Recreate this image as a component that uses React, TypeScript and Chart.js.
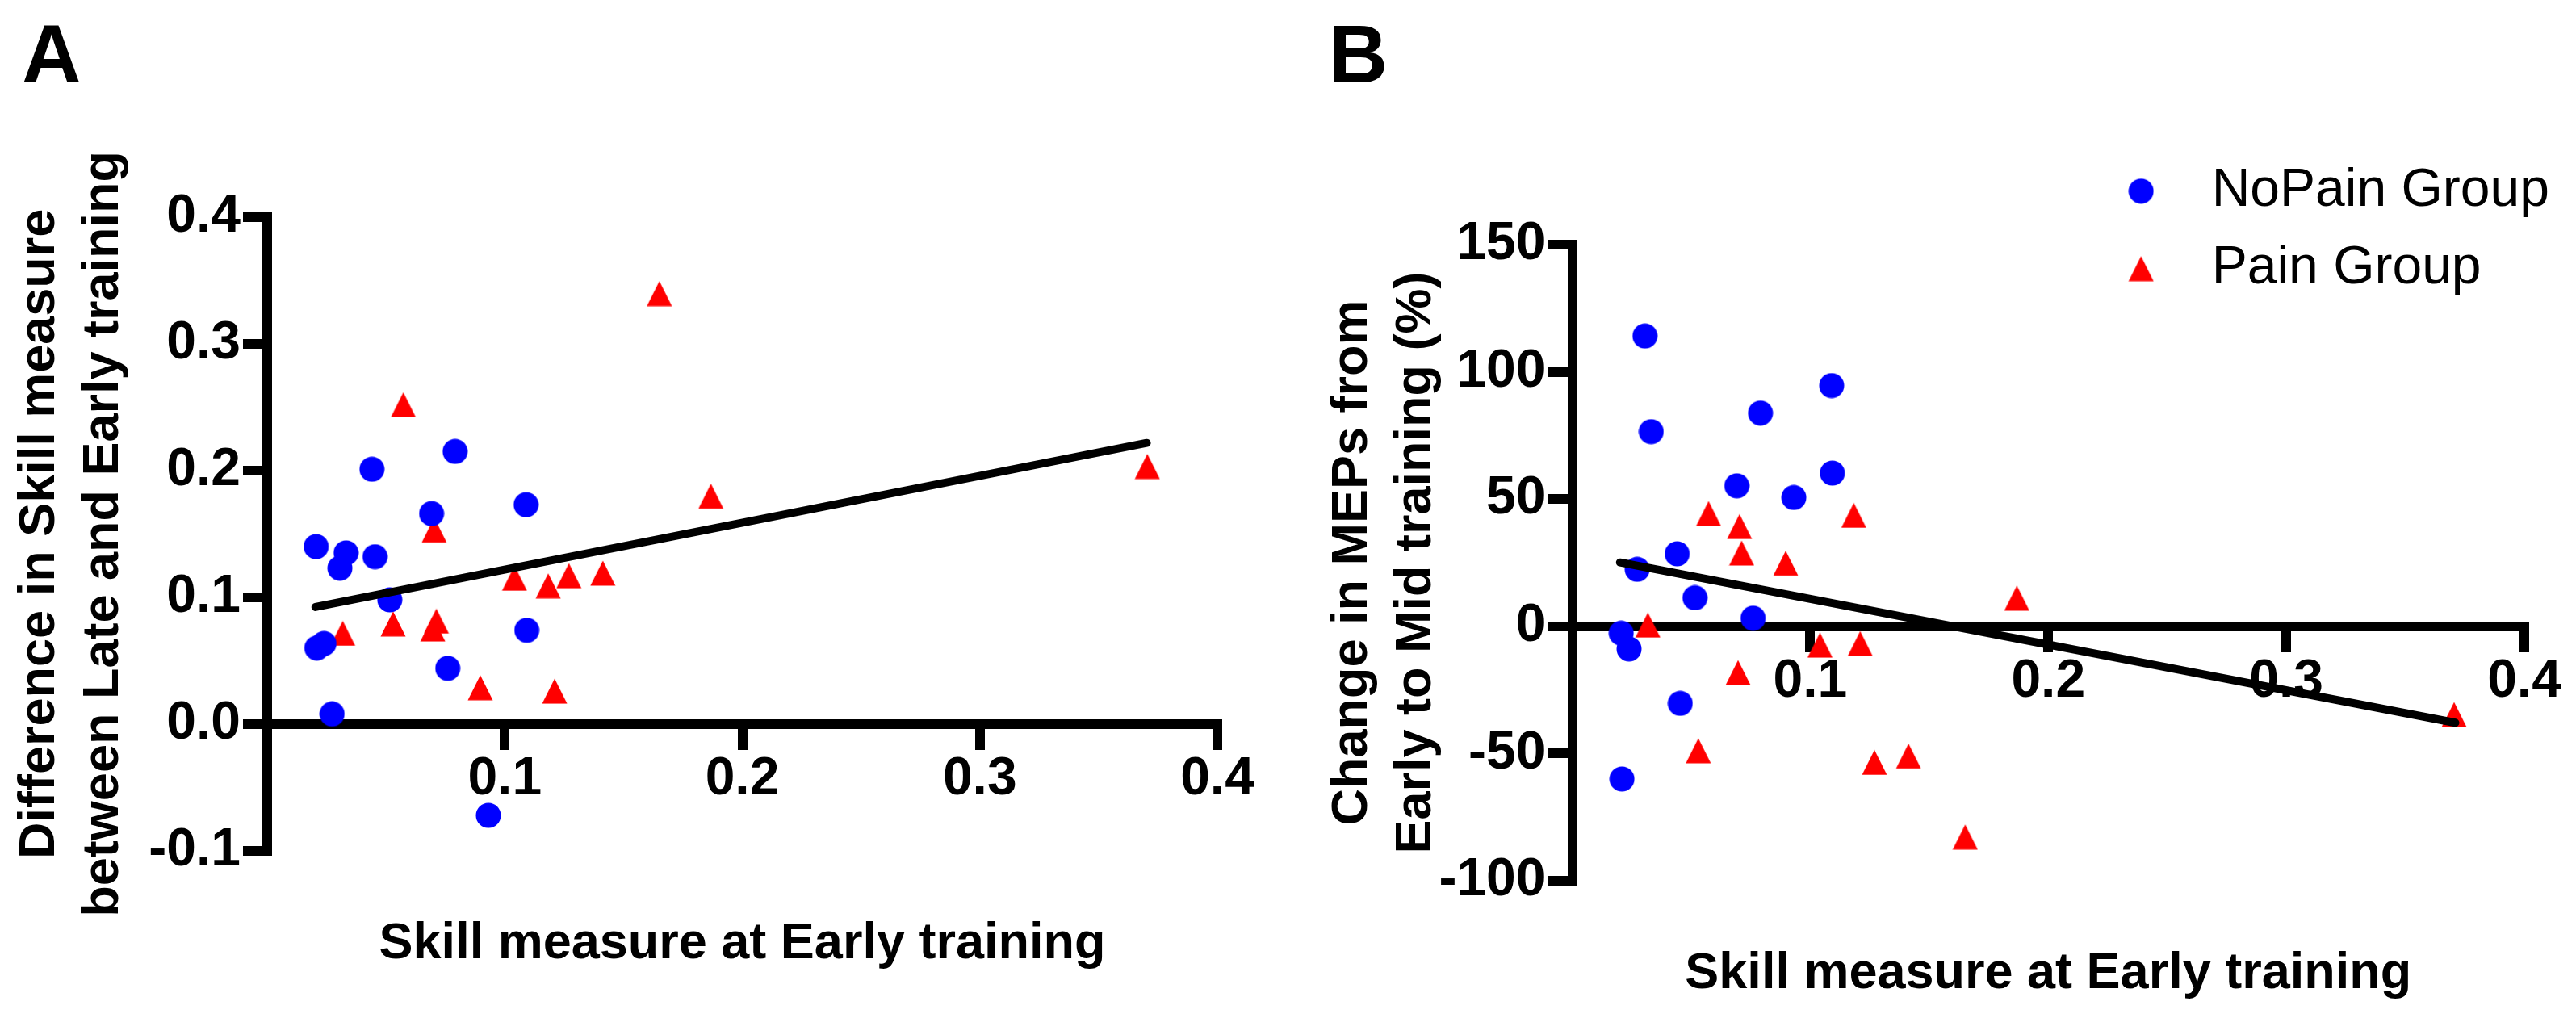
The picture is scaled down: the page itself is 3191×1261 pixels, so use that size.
import React, { useEffect, useRef } from 'react';
import { Chart, registerables } from 'chart.js';

Chart.register(...registerables);

// ---------- data ----------
// NoPain group (blue circles)
const noPainSkill = [0.0206, 0.0209, 0.0239, 0.0273, 0.0306, 0.0332, 0.0441, 0.0454, 0.0516, 0.0692, 0.0760, 0.0791, 0.0931, 0.1090, 0.1093];
const noPainSkillGain = [0.140, 0.060, 0.0635, 0.008, 0.123, 0.135, 0.201, 0.132, 0.098, 0.166, 0.044, 0.215, -0.072, 0.173, 0.074];
const noPainMepChange = [-2.7, -60, -8.9, 22.4, 114.1, 76.5, 28.5, -30.3, 11.2, 55.2, 3.2, 83.8, 50.6, 94.6, 60.2];

// Pain group (red triangles)
const painSkill = [0.0318, 0.0530, 0.0573, 0.0697, 0.0703, 0.0712, 0.0897, 0.1041, 0.1183, 0.1210, 0.1270, 0.1413, 0.1651, 0.1868, 0.3705];
const painSkillGain = [0.0716, 0.079, 0.2518, 0.075, 0.153, 0.0812, 0.0287, 0.115, 0.109, 0.026, 0.117, 0.119, 0.3395, 0.1797, 0.2032];
const painMepChange = [0.5, -48.9, 44.3, -18.2, 39.2, 28.8, 24.8, -7.4, 43.6, -6.8, -53.5, -51.0, -82.8, 11.1, -34.7];

// regression line end points
const fitLineA = [{ x: 0.0203, y: 0.0923 }, { x: 0.3703, y: 0.2217 }];
const fitLineB = [{ x: 0.0201, y: 25.1 }, { x: 0.3710, y: -37.9 }];

// ticks
const skillTicks = [0, 0.1, 0.2, 0.3, 0.4];
const gainTicks = [-0.1, 0, 0.1, 0.2, 0.3, 0.4];
const mepTicks = [-100, -50, 0, 50, 100, 150];

const groupLabels = ['NoPain Group', 'Pain Group'];
const xTitle = 'Skill measure at Early training';
const yTitleA = ['Difference in Skill measure', 'between Late and Early training'];
const yTitleB = ['Change in MEPs from', 'Early to Mid training (%)'];

// ---------- styling ----------
const FONT = '"Liberation Sans", Arial, Helvetica, sans-serif';
const BLUE = '#0000FF';
const RED = '#FF0000';
const AXIS_W = 12;

function marker(kind: 'circle' | 'triangle', color: string): HTMLCanvasElement {
  const c = document.createElement('canvas');
  c.width = 32;
  c.height = 32;
  const g = c.getContext('2d')!;
  g.fillStyle = color;
  g.beginPath();
  if (kind === 'circle') {
    g.arc(16, 16, 15.5, 0, Math.PI * 2);
  } else {
    g.moveTo(16, 0.5);
    g.lineTo(31.5, 31.5);
    g.lineTo(0.5, 31.5);
    g.closePath();
  }
  g.fill();
  return c;
}

function pts(xs: number[], ys: number[]) {
  return xs.map((x, i) => ({ x, y: ys[i] }));
}

const axisGrid = (tickLength: number) => ({
  drawOnChartArea: false,
  drawTicks: true,
  tickLength,
  tickWidth: AXIS_W,
  tickColor: '#000',
  lineWidth: AXIS_W,
  color: '#000',
});

function buildConfig(opts: {
  yVals: [number[], number[]];
  fit: { x: number; y: number }[];
  yTicks: number[];
  yFmt: (v: number) => string;
  yWidth: number;
  xHeight: number;
  padding: { top: number; right: number; bottom: number; left: number };
  yTitle: string[];
  yTitlePad: number;
  legend: boolean;
  circ: HTMLCanvasElement;
  tri: HTMLCanvasElement;
}): any {
  const yMin = opts.yTicks[0];
  const yMax = opts.yTicks[opts.yTicks.length - 1];
  return {
    type: 'scatter',
    data: {
      datasets: [
        {
          label: groupLabels[0],
          data: pts(noPainSkill, opts.yVals[0]),
          pointStyle: opts.circ,
          pointRadius: 16,
          backgroundColor: BLUE,
          borderColor: BLUE,
          borderWidth: 0,
          showLine: false,
          order: 1,
          clip: false,
        },
        {
          label: groupLabels[1],
          data: pts(painSkill, opts.yVals[1]),
          pointStyle: opts.tri,
          pointRadius: 16,
          backgroundColor: RED,
          borderColor: RED,
          borderWidth: 0,
          showLine: false,
          order: 2,
          clip: false,
        },
        {
          label: 'fit',
          data: opts.fit,
          showLine: true,
          borderColor: '#000',
          borderWidth: 10,
          borderCapStyle: 'round',
          pointRadius: 0,
          fill: false,
          order: 0,
          clip: false,
        },
      ],
    },
    options: {
      animation: false,
      responsive: false,
      devicePixelRatio: 1,
      events: [],
      layout: { padding: opts.padding, autoPadding: false },
      plugins: {
        tooltip: { enabled: false },
        title: { display: false },
        legend: opts.legend
          ? {
              display: true,
              position: 'chartArea',
              align: 'start',
              labels: {
                usePointStyle: true,
                pointStyleWidth: 109,
                boxHeight: 22,
                padding: 30,
                color: '#000',
                font: { family: FONT, size: 66, weight: 'normal' },
                filter: (item: any) => item.datasetIndex !== 2,
              },
            }
          : { display: false },
      },
      scales: {
        x: {
          type: 'linear',
          position: { y: 0 },
          min: skillTicks[0],
          max: skillTicks[skillTicks.length - 1],
          afterBuildTicks: (s: any) => {
            s.ticks = skillTicks.map((v) => ({ value: v }));
          },
          afterFit: (s: any) => {
            s.height = opts.xHeight;
          },
          grid: axisGrid(26),
          border: { display: true, width: AXIS_W, color: '#000' },
          ticks: {
            padding: 3,
            color: '#000',
            maxRotation: 0,
            autoSkip: false,
            font: { family: FONT, size: 66, weight: 'bold' },
            callback: (v: number) => (v === 0 ? '' : v.toFixed(1)),
          },
          title: {
            display: true,
            text: xTitle,
            color: '#000',
            padding: 0,
            font: { family: FONT, size: 63, weight: 'bold', lineHeight: 1.2 },
          },
        },
        y: {
          type: 'linear',
          position: 'left',
          min: yMin,
          max: yMax,
          afterBuildTicks: (s: any) => {
            s.ticks = opts.yTicks.map((v) => ({ value: v }));
          },
          afterFit: (s: any) => {
            s.width = opts.yWidth;
          },
          grid: axisGrid(30),
          border: { display: true, width: AXIS_W, color: '#000' },
          ticks: {
            padding: 3,
            color: '#000',
            autoSkip: false,
            font: { family: FONT, size: 66, weight: 'bold' },
            callback: (v: number) => opts.yFmt(v),
          },
          title: {
            display: true,
            text: opts.yTitle,
            color: '#000',
            padding: { top: opts.yTitlePad, bottom: 0 },
            font: { family: FONT, size: 63, weight: 'bold', lineHeight: 1.26 },
          },
        },
      },
    },
  };
}

const LEGEND_LEFT = 967.7;
const LEGEND_TOP = 173.7;

const legendPlacer = {
  id: 'legendPlacer',
  afterLayout(chart: any) {
    const lg = chart.legend;
    if (!lg || !lg.options || !lg.options.display) return;
    lg.left = LEGEND_LEFT;
    lg.top = LEGEND_TOP;
    lg.width = 620;
    lg.height = 400;
    lg.right = LEGEND_LEFT + 620;
    lg.bottom = LEGEND_TOP + 400;
  },
};

export default function App() {
  const refA = useRef<HTMLCanvasElement>(null);
  const refB = useRef<HTMLCanvasElement>(null);

  useEffect(() => {
    document.body.style.margin = '0';
    const circ = marker('circle', BLUE);
    const tri = marker('triangle', RED);

    const cfgA = buildConfig({
      yVals: [noPainSkillGain, painSkillGain],
      fit: fitLineA,
      yTicks: gainTicks,
      yFmt: (v) => v.toFixed(1),
      yWidth: 331,
      xHeight: 310.8,
      padding: { top: 268.6, right: 92, bottom: 207, left: 0 },
      yTitle: yTitleA,
      yTitlePad: 9.5,
      legend: false,
      circ,
      tri,
    });
    const cfgB = buildConfig({
      yVals: [noPainMepChange, painMepChange],
      fit: fitLineB,
      yTicks: mepTicks,
      yFmt: (v) => String(v),
      yWidth: 347.5,
      xHeight: 469,
      padding: { top: 303, right: 64, bottom: 170, left: 0 },
      yTitle: yTitleB,
      yTitlePad: 36,
      legend: true,
      circ,
      tri,
    });
    cfgB.plugins = [legendPlacer];

    const a = new Chart(refA.current!, cfgA);
    const b = new Chart(refB.current!, cfgB);
    return () => {
      a.destroy();
      b.destroy();
    };
  }, []);

  const letter: React.CSSProperties = {
    position: 'absolute',
    top: 15.7,
    fontFamily: FONT,
    fontWeight: 'bold',
    fontSize: 102,
    lineHeight: '102px',
    color: '#000',
  };

  return (
    <div style={{ position: 'relative', width: 3191, height: 1261, background: '#fff', overflow: 'hidden' }}>
      <canvas ref={refA} width={1600} height={1261} style={{ position: 'absolute', left: 0, top: 0 }} />
      <canvas ref={refB} width={1591} height={1261} style={{ position: 'absolute', left: 1600, top: 0 }} />
      <div style={{ ...letter, left: 27 }}>A</div>
      <div style={{ ...letter, left: 1645.5 }}>B</div>
    </div>
  );
}
